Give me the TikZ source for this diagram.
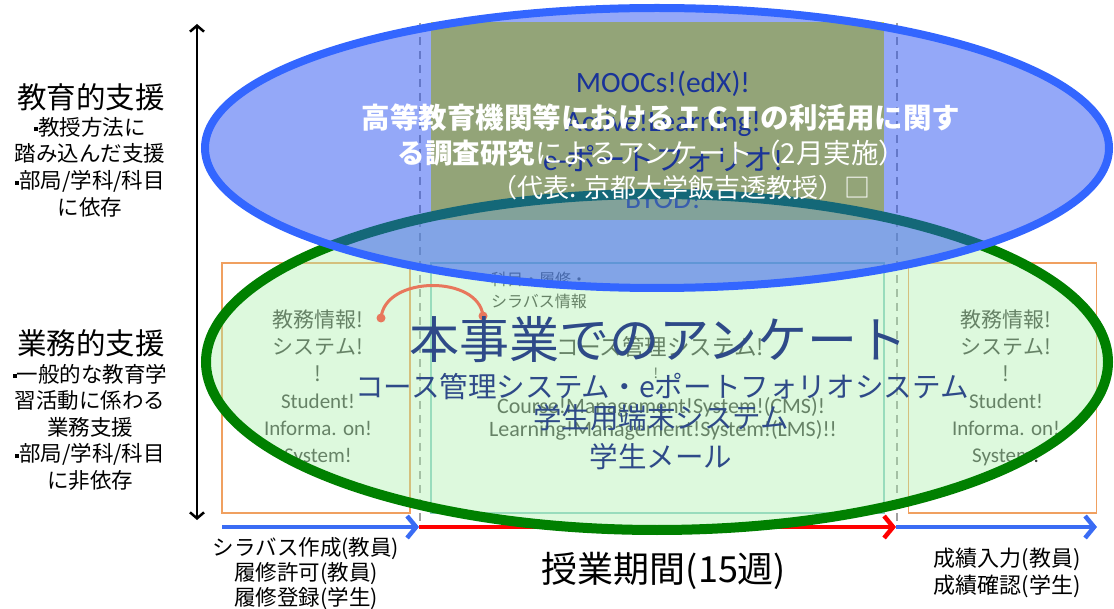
\documentclass[tikz,border=0pt]{standalone}
\usepackage{fontspec}
\setmainfont{Noto Sans CJK JP}
\newfontfamily\lat{Carlito}
\usetikzlibrary{arrows.meta}
\definecolor{yellowbox}{HTML}{FFF800}
\definecolor{navy}{HTML}{2E4A88}
\definecolor{boxnavy}{HTML}{0A1540}
\definecolor{grtxt}{HTML}{3A3A3A}
\definecolor{orng}{HTML}{F0A060}
\definecolor{tealb}{HTML}{8CCFC8}
\definecolor{ellg}{HTML}{AAF0AA}
\definecolor{ellb}{HTML}{2951F1}
\definecolor{blueline}{HTML}{3366FF}
\definecolor{arrblue}{HTML}{3A6CF4}
\definecolor{salmon}{HTML}{E8775C}
\definecolor{dashgray}{HTML}{A0A0A0}
\tikzset{
  sidebox/.style={draw=orng, line width=1.5pt, fill=white, minimum width=188pt, minimum height=250pt},
  centerbox/.style={draw=tealb, line width=1.5pt, fill=white, minimum width=453pt, minimum height=250pt},
  topbox/.style={fill=yellowbox, minimum width=453pt, minimum height=198pt},
  boxtxt/.style={text=grtxt, align=center},
  navytxt/.style={text=navy, align=center},
  whitetxt/.style={text=white, align=center},
  blacktxt/.style={text=black, align=center},
  divider/.style={dashgray, line width=2pt, dash pattern=on 8pt off 6pt},
  timearrow/.style={line width=4.5pt, -{Straight Barb[length=9pt,width=22pt]}},
  vaxis/.style={line width=2.5pt, {Straight Barb[length=6pt,width=14pt]}-{Straight Barb[length=6pt,width=14pt]}},
}
\begin{document}
\begin{tikzpicture}[x=1pt,y=-1pt, every node/.style={inner sep=0pt, outer sep=0pt}]
\useasboundingbox (0,0) rectangle (1114,609);

% boxes
\node[sidebox] (lbox) at (316,388) {};
\node[sidebox] (rbox) at (1002.5,388) {};
\node[centerbox] (cbox) at (657.5,388) {};
\node[topbox] (obox) at (657.5,121) {};

% box texts
\node[text=boxnavy, align=center, font=\lat\fontsize{29.5}{38.7}\selectfont] (otext) at (663,140)
  {MOOCs!(edX)!\\Active!Learning!\\e-{\rmfamily ポートフォリオ}!\\BYOD!};
\node[boxtxt, font=\fontsize{21}{27}\selectfont] (ltext) at (318,388)
  {教務情報!\\システム!\\!\\{\lat Student!}\\{\lat Informa. on!}\\{\lat System!}};
\node[boxtxt, font=\fontsize{21}{27}\selectfont] (rtext) at (1006,388)
  {教務情報!\\システム!\\!\\{\lat Student!}\\{\lat Informa. on!}\\{\lat System!}};
\node[boxtxt, font=\fontsize{16}{22}\selectfont] (sylla) at (539,290) {科目・履修・\\シラバス情報};
\node[boxtxt, font=\fontsize{22.5}{26}\selectfont] (cms1) at (660,347) {コース管理システム!};
\node[boxtxt, font=\fontsize{14}{16}\selectfont] (cms2) at (656,373) {!};
\node[boxtxt, font=\lat\fontsize{22}{23}\selectfont] (cms3) at (661,407) {Course!Management!System!(CMS)!};
\node[boxtxt, font=\lat\fontsize{22}{23}\selectfont] (cms4) at (663,430) {Learning!Management!System!(LMS)!!};

% dividers
\coordinate (d1t) at (420,23); \coordinate (d1b) at (420,528);
\coordinate (d2t) at (897,23); \coordinate (d2b) at (897,528);
\draw[divider] (d1t) -- (d1b);
\draw[divider] (d2t) -- (d2b);

% time arrows
\coordinate (a0) at (222,527); \coordinate (a1) at (419,527);
\coordinate (a2) at (896,527); \coordinate (a3) at (1097,527);
\draw[timearrow, red] (a1) -- (a2);
\draw[timearrow, arrblue] (a0) -- (a1);
\draw[timearrow, arrblue] (a2) -- (a3);

% green ellipse
\coordinate (gc) at (657,362);
\fill[ellg, fill opacity=0.4] (gc) ellipse [x radius=451pt, y radius=168pt];
\draw[green!50!black, line width=10pt] (gc) ellipse [x radius=451pt, y radius=168pt];

% red arc
\coordinate (r1) at (381,318); \coordinate (r2) at (483,316);
\draw[salmon, line width=3pt] (r1) .. controls (385,275) and (479,275) .. (r2);
\fill[salmon] (r1) circle [radius=4.5pt];
\fill[salmon] (r2) circle [radius=4.5pt];

% blue ellipse
\coordinate (bc) at (657,148);
\fill[ellb, fill opacity=0.5] (bc) ellipse [x radius=452pt, y radius=140pt];
\draw[blueline, line width=8pt] (bc) ellipse [x radius=452pt, y radius=140pt];

% big navy texts
\node[navytxt, font=\fontsize{50}{56}\selectfont] (title) at (658.5,340) {本事業でのアンケート};
\node[navytxt, font=\fontsize{28.6}{32}\selectfont] (n1) at (662,387) {コース管理システム・eポートフォリオシステム};
\node[navytxt, font=\fontsize{28.5}{32}\selectfont] (n2) at (661,418) {学生用端末システム};
\node[navytxt, font=\fontsize{28.5}{32}\selectfont] (n3) at (661,457) {学生メール};

% white texts
\node[whitetxt, font=\bfseries\fontsize{28.5}{32}\selectfont] (w1) at (661,118) {高等教育機関等におけるＩＣＴの利活用に関す};
\node[whitetxt, font=\fontsize{27.5}{32}\selectfont] (w2) at (652,153) {\textbf{る調査研究}によるアンケート（2月実施）};
\node[whitetxt, font=\fontsize{26}{28}\selectfont] (w3) at (681,188) {（代表: 京都大学飯吉透教授）□};

% left column
\coordinate (vt) at (197,24); \coordinate (vb) at (197,520);
\draw[vaxis] (vb) -- (vt);
\node[blacktxt, font=\fontsize{29.5}{32}\selectfont] (h1) at (91,97) {教育的支援};
\node[blacktxt, font=\fontsize{21.5}{26.7}\selectfont] (s1) at (90,167)
  {\raisebox{4pt}{\rule{4pt}{4pt}}教授方法に\\踏み込んだ支援\\\raisebox{4pt}{\rule{4pt}{4pt}}部局/学科/科目\\に依存};
\node[blacktxt, font=\fontsize{29.5}{32}\selectfont] (h2) at (91,343) {業務的支援};
\node[blacktxt, font=\fontsize{21.5}{26.5}\selectfont] (s2) at (90,427)
  {\raisebox{4pt}{\rule{4pt}{4pt}}一般的な教育学\\習活動に係わる\\業務支援\\\raisebox{4pt}{\rule{4pt}{4pt}}部局/学科/科目\\に非依存};

% bottom labels
\node[blacktxt, font=\fontsize{21.5}{25}\selectfont] (b1) at (306,574) {シラバス作成(教員)\\履修許可(教員)\\履修登録(学生)};
\node[blacktxt, font=\fontsize{36}{40}\selectfont] (b2) at (664,571) {授業期間(15週)};
\node[blacktxt, font=\fontsize{22}{27}\selectfont] (b3) at (1007,573) {成績入力(教員)\\成績確認(学生)};
\end{tikzpicture}
\end{document}
